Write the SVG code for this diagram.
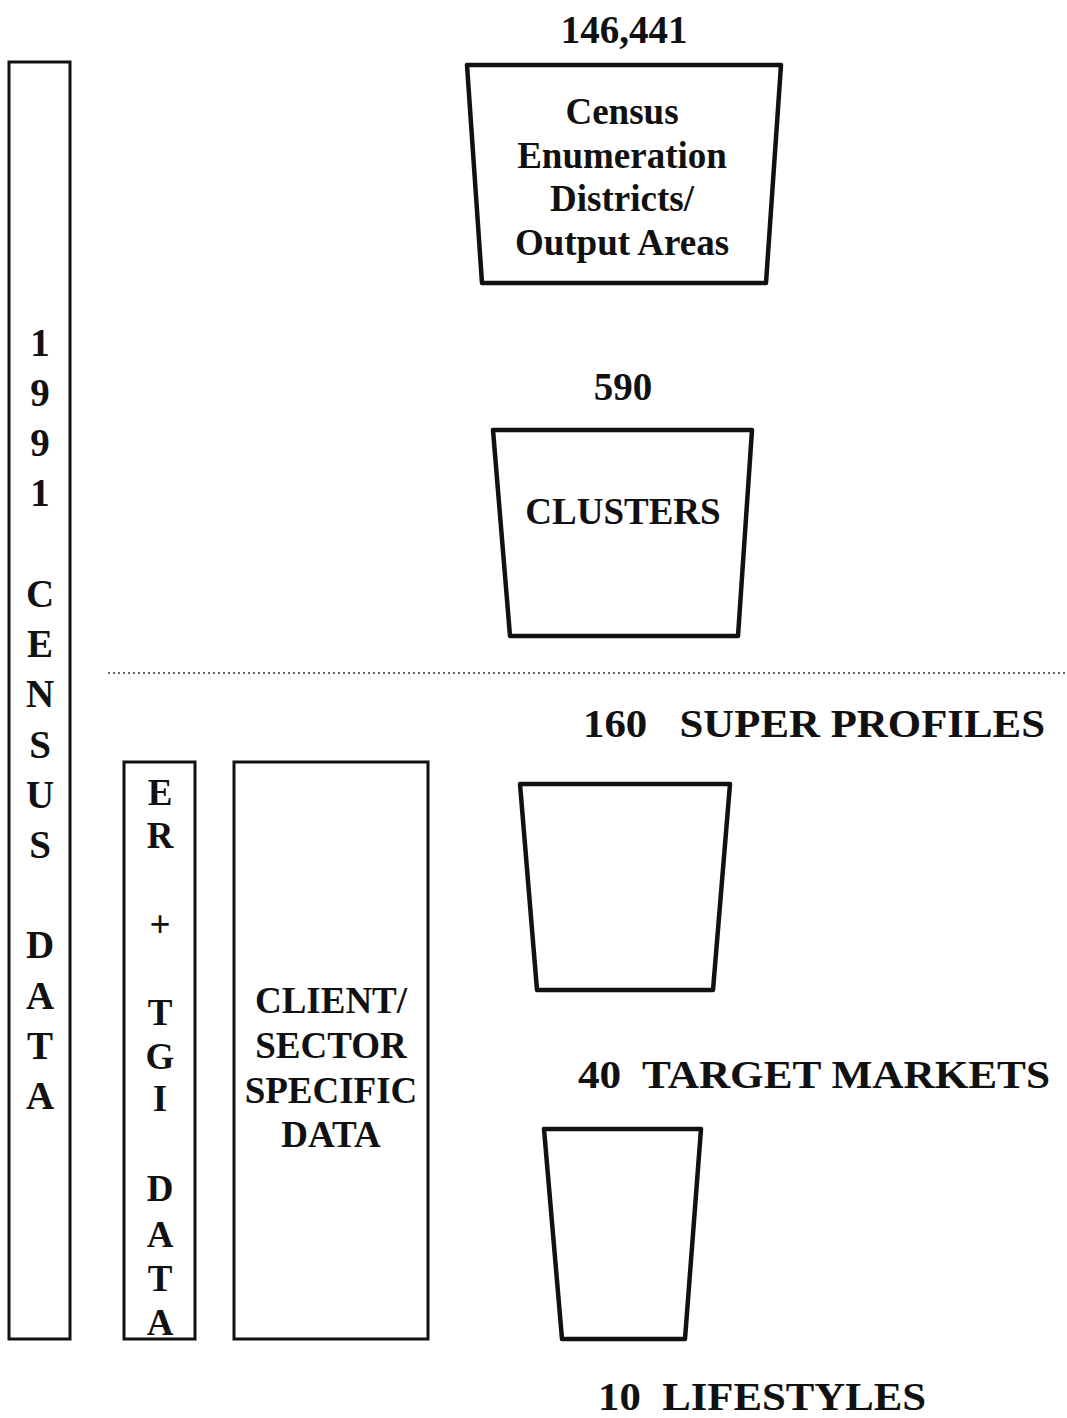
<svg xmlns="http://www.w3.org/2000/svg" width="1067" height="1418" viewBox="0 0 1067 1418">
  <style>
    .box { fill: #ffffff; stroke: #111111; stroke-width: 3; }
    .cup { fill: #ffffff; stroke: #111111; stroke-width: 4.5; stroke-linejoin: round; }
    .t { font-family: "Liberation Serif", "Times New Roman", serif; font-weight: bold; fill: #111111; text-anchor: middle; }
    .big { font-size: 39px; }
    .mid { font-size: 37px; }
    .lab { font-size: 40px; text-anchor: start; }
    .divider { stroke: #333333; stroke-width: 1.5; stroke-dasharray: 2 3; fill: none; }
  </style>
  <rect width="1067" height="1418" fill="#ffffff"/>

  <!-- vertical side panels -->
  <g id="census-data">
    <rect class="box" x="9" y="62" width="61" height="1277"/>
    <text class="t big" x="40" y="356">1</text>
    <text class="t big" x="40" y="406">9</text>
    <text class="t big" x="40" y="456">9</text>
    <text class="t big" x="40" y="506">1</text>
    <text class="t big" x="40" y="607">C</text>
    <text class="t big" x="40" y="657">E</text>
    <text class="t big" x="40" y="707">N</text>
    <text class="t big" x="40" y="758">S</text>
    <text class="t big" x="40" y="808">U</text>
    <text class="t big" x="40" y="858">S</text>
    <text class="t big" x="40" y="958">D</text>
    <text class="t big" x="40" y="1009">A</text>
    <text class="t big" x="40" y="1059">T</text>
    <text class="t big" x="40" y="1109">A</text>
  </g>

  <g id="er-tgi-data">
    <rect class="box" x="124" y="762" width="71" height="577"/>
    <text class="t mid" x="160" y="805">E</text>
    <text class="t mid" x="160" y="848">R</text>
    <text class="t mid" x="160" y="937">+</text>
    <text class="t mid" x="160" y="1025">T</text>
    <text class="t mid" x="160" y="1069">G</text>
    <text class="t mid" x="160" y="1111">I</text>
    <text class="t mid" x="160" y="1201">D</text>
    <text class="t mid" x="160" y="1247">A</text>
    <text class="t mid" x="160" y="1291">T</text>
    <text class="t mid" x="160" y="1335">A</text>
  </g>

  <g id="client-sector-data">
    <rect class="box" x="234" y="762" width="194" height="577"/>
    <text class="t mid" x="331" y="1013">CLIENT/</text>
    <text class="t mid" x="331" y="1058">SECTOR</text>
    <text class="t mid" x="331" y="1103">SPECIFIC</text>
    <text class="t mid" x="331" y="1147">DATA</text>
  </g>

  <!-- classification levels -->
  <g id="enumeration-districts">
    <text class="t big" x="624" y="43">146,441</text>
    <polygon class="cup" points="467,65 781,65 766,283 482,283"/>
    <text class="t mid" x="622" y="124">Census</text>
    <text class="t mid" x="622" y="168">Enumeration</text>
    <text class="t mid" x="622" y="211">Districts/</text>
    <text class="t mid" x="622" y="255">Output Areas</text>
  </g>

  <g id="clusters">
    <text class="t big" x="623" y="400">590</text>
    <polygon class="cup" points="493,430 752,430 738,636 510,636"/>
    <text class="t mid" x="623" y="524">CLUSTERS</text>
  </g>

  <g id="super-profiles">
    <text class="t lab" x="583" y="737" textLength="462" lengthAdjust="spacingAndGlyphs" xml:space="preserve">160   SUPER PROFILES</text>
    <polygon class="cup" points="520,784 730,784 713,990 537,990"/>
  </g>

  <g id="target-markets">
    <text class="t lab" x="578" y="1088" textLength="472" lengthAdjust="spacingAndGlyphs" xml:space="preserve">40  TARGET MARKETS</text>
    <polygon class="cup" points="544,1129 701,1129 685,1339 562,1339"/>
  </g>

  <g id="lifestyles">
    <text class="t lab" x="598" y="1410" textLength="328" lengthAdjust="spacingAndGlyphs" xml:space="preserve">10  LIFESTYLES</text>
  </g>

  <!-- boundary between census-only and market levels -->
  <g id="connectors">
    <line class="divider" x1="108" y1="673" x2="1067" y2="673"/>
  </g>
</svg>
